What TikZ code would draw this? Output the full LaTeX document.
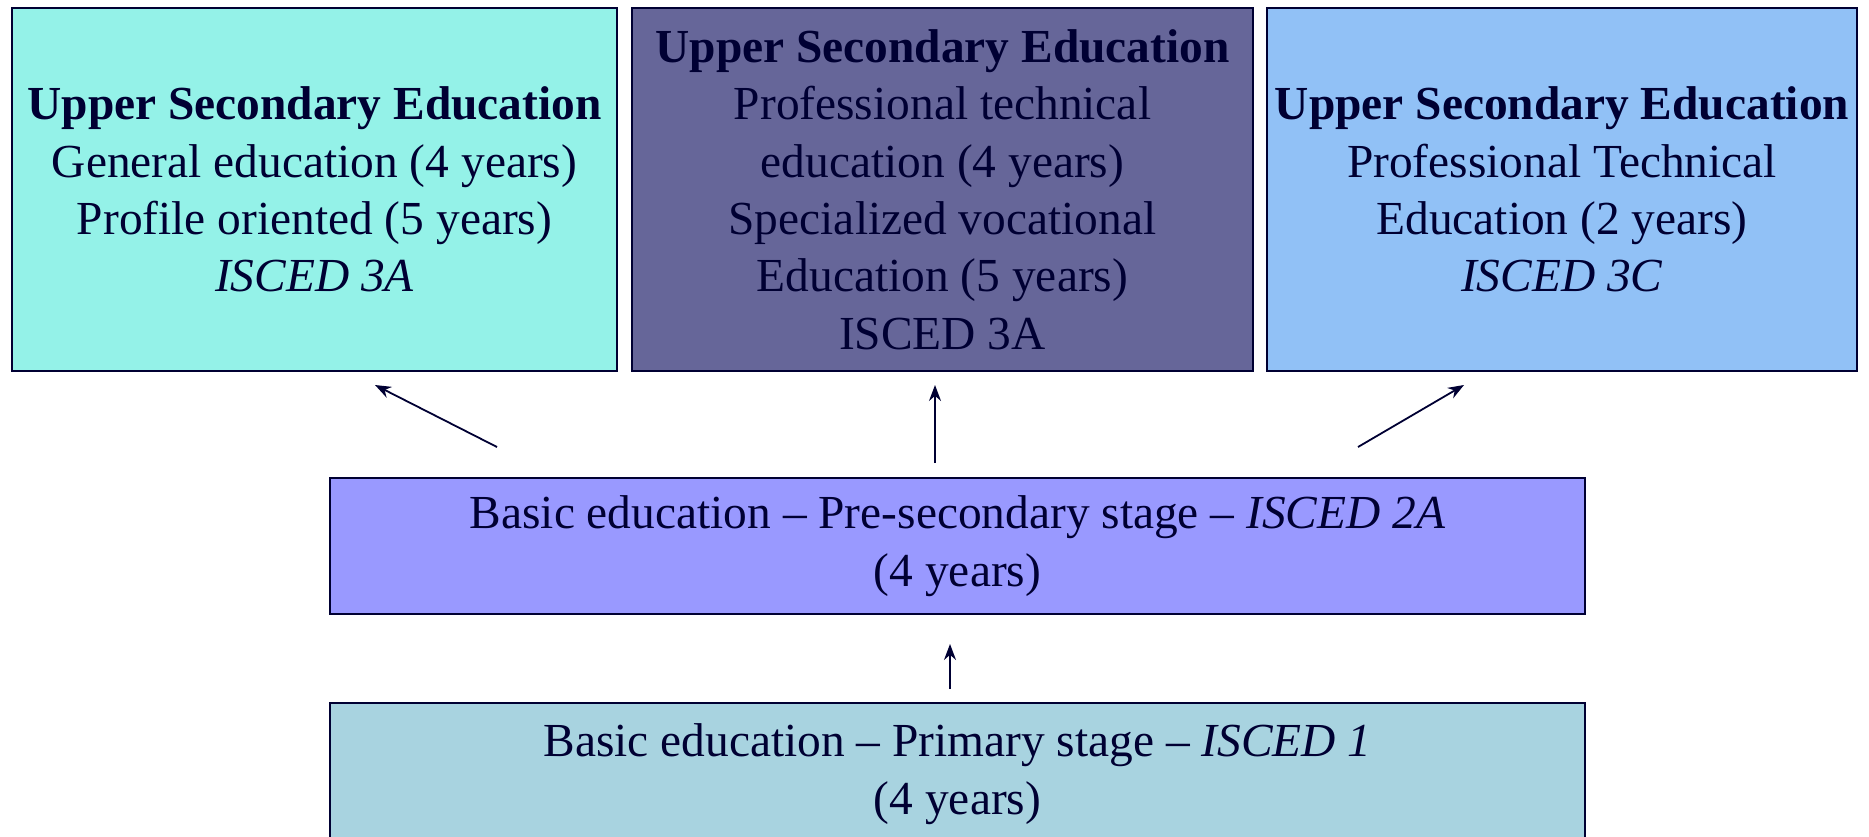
\documentclass[tikz,border=0pt]{standalone}
\usepackage{fontspec}
\setmainfont{Liberation Serif}
\usetikzlibrary{arrows.meta}
\definecolor{rand}{RGB}{0,0,51}
\definecolor{tuerkis}{RGB}{148,242,232}
\definecolor{violett}{RGB}{102,102,153}
\definecolor{himmel}{RGB}{145,193,246}
\definecolor{lila}{RGB}{153,153,255}
\definecolor{hellblau}{RGB}{168,211,224}

\begin{document}
\begin{tikzpicture}[x=0.5pt,y=-0.5pt,font=\fontsize{23.7}{28.7}\selectfont,text=rand,
    kasten/.style={draw=rand,line width=1pt,inner sep=0pt,align=center},
    pfeil/.style={rand,line width=0.9pt,-{Stealth[length=8pt,width=6pt]}}]
        \useasboundingbox (0,0) rectangle (1869,836);
        \clip (0,0) rectangle (1869,836);
        % obere Reihe
        \node[kasten,fill=tuerkis,minimum width=302.5pt,minimum height=181.5pt] (O1) at (314.5,189.5)
            {\textbf{Upper Secondary Education}\\General education (4 years)\\Profile oriented (5 years)\\\textit{ISCED 3A}};
        \node[kasten,fill=violett,minimum width=310.5pt,minimum height=181.5pt] (O2) at (942.5,189.5)
            {\textbf{Upper Secondary Education}\\Professional technical\\education (4 years)\\Specialized vocational\\Education (5 years)\\ISCED 3A};
        \node[kasten,fill=himmel,minimum width=295pt,minimum height=181.5pt] (O3) at (1562,189.5)
            {\textbf{Upper Secondary Education}\\Professional Technical\\Education (2 years)\\\textit{ISCED 3C}};
        % Mitte und unten
        \node[kasten,fill=lila,minimum width=627.5pt,minimum height=68pt] (M) at (957.5,546)
            {Basic education -- Pre-secondary stage -- \textit{ISCED 2A}\\(4 years)};
        \node[kasten,fill=hellblau,minimum width=627.5pt,minimum height=71pt] (U) at (957.5,774)
            {Basic education -- Primary stage -- \textit{ISCED 1}\\(4 years)};
        % Pfeile
        \coordinate (a1) at (497,447);
        \coordinate (e1) at (375,385);
        \coordinate (a2) at (935,463);
        \coordinate (e2) at (935,385);
        \coordinate (a3) at (1358,447);
        \coordinate (e3) at (1464,385);
        \coordinate (a4) at (950,689);
        \coordinate (e4) at (950,644);
        \draw[pfeil] (a1) -- (e1);
        \draw[pfeil] (a2) -- (e2);
        \draw[pfeil] (a3) -- (e3);
        \draw[pfeil] (a4) -- (e4);
\end{tikzpicture}
\end{document}
